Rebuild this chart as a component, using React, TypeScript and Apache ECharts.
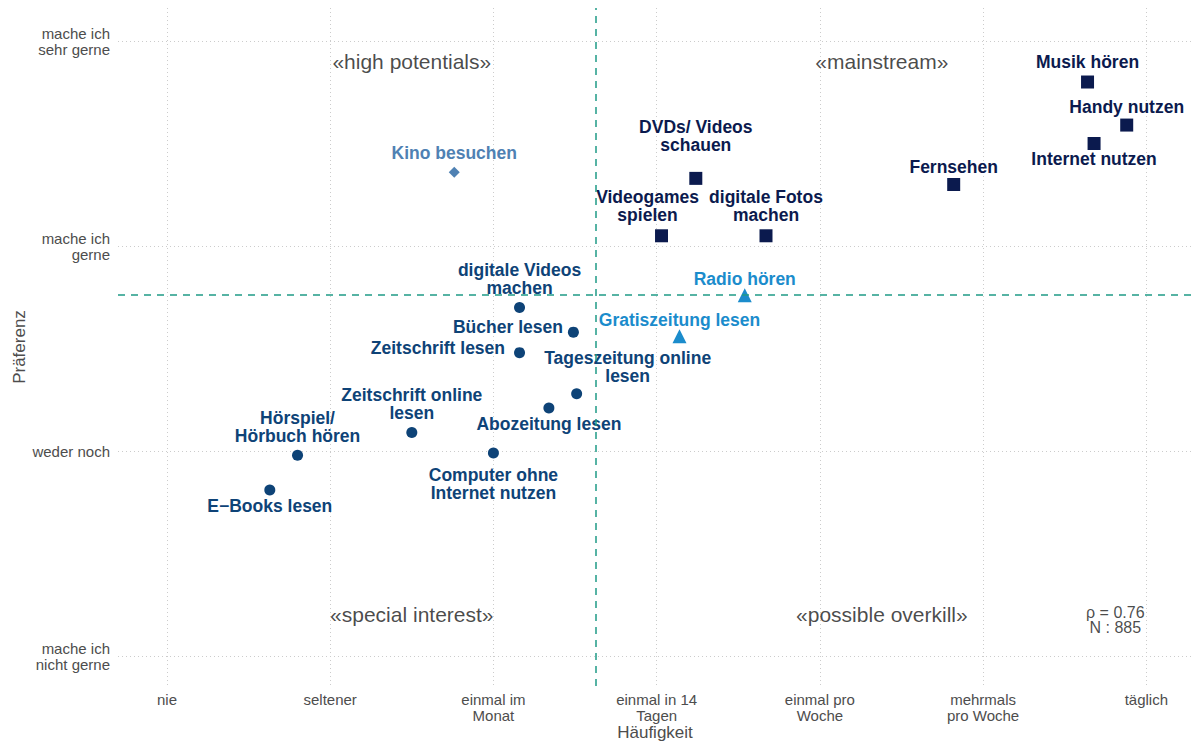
import React, { useEffect, useRef } from "react";
import * as echarts from "echarts";

const xTickLabels = ["nie", "seltener", "einmal im\nMonat", "einmal in 14\nTagen", "einmal pro\nWoche", "mehrmals\npro Woche", "täglich"];
const yTickLabels = ["mache ich\nnicht gerne", "weder noch", "mache ich\ngerne", "mache ich\nsehr gerne"];

const activities = [
  "Musik hören", "Handy nutzen", "Internet nutzen", "Fernsehen", "DVDs/ Videos\nschauen",
  "digitale Fotos\nmachen", "Videogames\nspielen", "Kino besuchen", "Radio hören", "Gratiszeitung lesen",
  "digitale Videos\nmachen", "Bücher lesen", "Zeitschrift lesen", "Tageszeitung online\nlesen", "Abozeitung lesen",
  "Zeitschrift online\nlesen", "Hörspiel/\nHörbuch hören", "Computer ohne\nInternet nutzen", "E−Books lesen",
];
const frequency = [6.64, 6.88, 6.68, 5.82, 4.24, 4.67, 4.03, 2.76, 4.54, 4.14, 3.16, 3.49, 3.16, 3.51, 3.34, 2.50, 1.80, 3.00, 1.63];
const preference = [3.80, 3.59, 3.50, 3.30, 3.33, 3.05, 3.05, 3.36, 2.76, 2.56, 2.70, 2.58, 2.48, 2.28, 2.21, 2.09, 1.98, 1.99, 1.81];
const groups = ["A", "A", "A", "A", "A", "A", "A", "K", "T", "T", "C", "C", "C", "C", "C", "C", "C", "C", "C"];

const meanFrequency = 3.635;
const meanPreference = 2.76;

const quadrantNames = ["«high potentials»", "«mainstream»", "«special interest»", "«possible overkill»"];
const quadrantX = [2.5, 5.38, 2.5, 5.38];
const quadrantY = [3.9, 3.9, 1.205, 1.205];

const statsText = "ρ = 0.76\nN : 885";
const statsX = 6.81;
const statsY = 1.176;

const FONT = "'Liberation Sans', Arial, Helvetica, sans-serif";

const groupStyle: Record<string, any> = {
  A: { symbol: "rect", size: 13, color: "#0b1a4e", offset: [0, 0] },
  C: { symbol: "circle", size: 11, color: "#0e4377", offset: [0, 0] },
  K: { symbol: "diamond", size: 11, color: "#4f81b3", offset: [0, 0] },
  T: { symbol: "triangle", size: 14, color: "#1b8ccc", offset: [0, 5] },
};

const labelPlacement: Record<string, any> = {
  "Internet nutzen": { position: "bottom", offset: [0, -5] },
  "Fernsehen": { position: "top", offset: [0, 3] },
  "Handy nutzen": { position: "top", offset: [0, 2] },
  "DVDs/ Videos\nschauen": { position: "top", offset: [0, -13] },
  "Videogames\nspielen": { position: "top", offset: [-14, 0] },
  "Bücher lesen": { position: "left", offset: [0, -5], align: "right" },
  "Zeitschrift lesen": { position: "left", offset: [-4, -5], align: "right" },
  "Tageszeitung online\nlesen": { position: "top", offset: [51, 2] },
  "Abozeitung lesen": { position: "bottom", offset: [0, -3] },
  "Computer ohne\nInternet nutzen": { position: "bottom", offset: [0, 2] },
  "E−Books lesen": { position: "bottom", offset: [0, -4] },
};

export default function App() {
  const ref = useRef<HTMLDivElement>(null);
  useEffect(() => {
    document.body.style.margin = "0";
    const chart = echarts.init(ref.current!, null, { renderer: "svg" });
    const seriesFor = (g: string) => {
      const st = groupStyle[g];
      const data: any[] = [];
      activities.forEach((name, i) => {
        if (groups[i] !== g) return;
        const lp = labelPlacement[name] || { position: "top", offset: st.offset };
        const label: any = { position: lp.position, offset: lp.offset || [0, 0] };
        label.align = lp.align || "center";
        data.push({ name, value: [frequency[i], preference[i]], label });
      });
      return {
        type: "scatter",
        symbol: st.symbol,
        symbolSize: st.size,
        itemStyle: { color: st.color, opacity: 1 },
        silent: true,
        label: {
          show: true,
          formatter: (p: any) => p.name,
          color: st.color,
          fontFamily: FONT,
          fontWeight: "bold",
          fontSize: 17.5,
          lineHeight: 18,
          distance: 5,
        },
        data,
      };
    };
    const option: any = {
      animation: false,
      backgroundColor: "#ffffff",
      grid: { left: 118, right: 0, top: 8, bottom: 57, containLabel: false, outerBoundsMode: "none" },
      xAxis: {
        type: "value",
        min: 0.7,
        max: 7.28,
        name: "Häufigkeit",
        nameLocation: "middle",
        nameGap: 38,
        nameMoveOverlap: false,
        nameTextStyle: { color: "#4d4d4d", fontSize: 17, fontFamily: FONT },
        axisLine: { show: false },
        axisTick: { show: false, customValues: [1, 2, 3, 4, 5, 6, 7] },
        axisLabel: {
          customValues: [1, 2, 3, 4, 5, 6, 7],
          formatter: (v: number) => xTickLabels[Math.round(v) - 1] ?? "",
          color: "#4d4d4d",
          fontSize: 15,
          lineHeight: 16,
          fontFamily: FONT,
          margin: 5,
        },
        splitLine: { show: true, lineStyle: { color: "#cccccc", type: [1, 3], width: 1 } },
      },
      yAxis: {
        type: "value",
        min: 0.854,
        max: 4.161,
        name: "Präferenz",
        nameLocation: "middle",
        nameGap: 90,
        nameMoveOverlap: false,
        nameTextStyle: { color: "#4d4d4d", fontSize: 17, fontFamily: FONT },
        axisLine: { show: false },
        axisTick: { show: false, customValues: [1, 2, 3, 4] },
        axisLabel: {
          customValues: [1, 2, 3, 4],
          formatter: (v: number) => yTickLabels[Math.round(v) - 1] ?? "",
          color: "#4d4d4d",
          fontSize: 15,
          lineHeight: 16,
          fontFamily: FONT,
          margin: 8,
          align: "right",
        },
        splitLine: { show: true, lineStyle: { color: "#cccccc", type: [1, 3], width: 1 } },
      },
      series: [
        {
          type: "scatter",
          symbolSize: 0,
          silent: true,
          data: quadrantNames.map((n, i) => ({ name: n, value: [quadrantX[i], quadrantY[i]] })),
          label: {
            show: true,
            position: "inside",
            formatter: (p: any) => p.name,
            color: "#1a1a1a",
            fontSize: 21,
            fontFamily: FONT,
          },
          markLine: {
            silent: true,
            symbol: "none",
            label: { show: false },
            lineStyle: { color: "#1f9a86", type: [7, 6], width: 1.5 },
            data: [{ xAxis: meanFrequency }, { yAxis: meanPreference }],
          },
        },
        {
          type: "scatter",
          symbolSize: 0,
          silent: true,
          data: [{ name: statsText, value: [statsX, statsY] }],
          label: {
            show: true,
            position: "inside",
            formatter: (p: any) => p.name,
            color: "#1a1a1a",
            fontSize: 16,
            lineHeight: 15,
            fontFamily: FONT,
          },
        },
        seriesFor("A"),
        seriesFor("C"),
        seriesFor("K"),
        seriesFor("T"),
      ],
    };
    chart.setOption(option);
    return () => chart.dispose();
  }, []);
  return <div ref={ref} style={{ width: 1192, height: 743 }} />;
}
